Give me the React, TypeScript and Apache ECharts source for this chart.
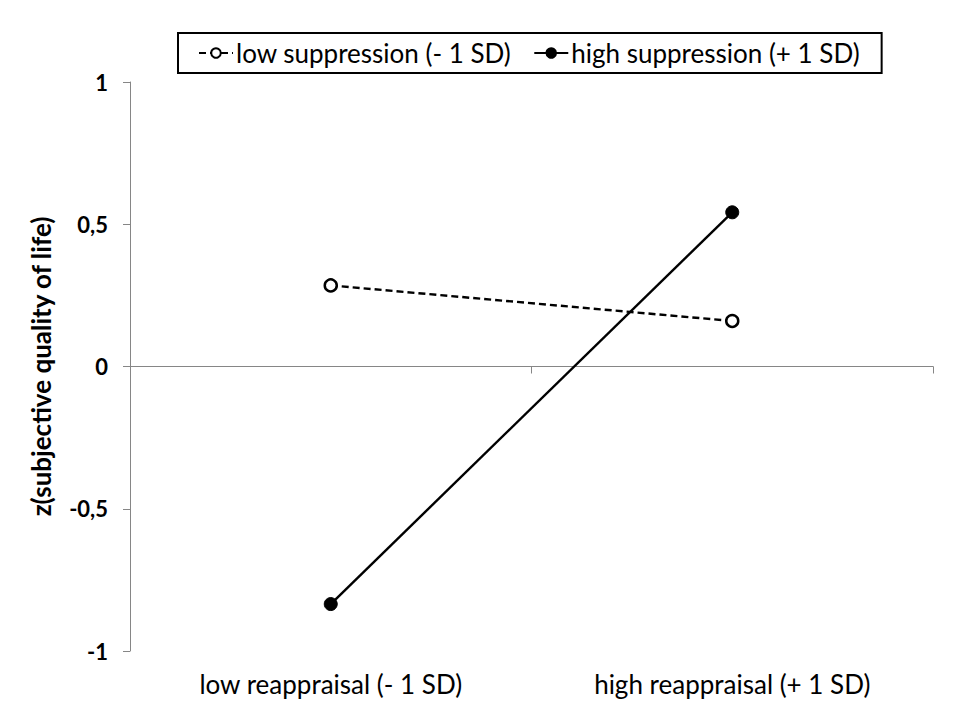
import React, { useEffect, useRef } from "react";
import * as echarts from "echarts";

const categories = ["low reappraisal (- 1 SD)", "high reappraisal (+ 1 SD)"];
const lowSuppression = [0.285, 0.16];
const highSuppression = [-0.835, 0.542];
const seriesNames = ["low suppression (- 1 SD)", "high suppression (+ 1 SD)"];
const yTickValues = [-1, -0.5, 0, 0.5, 1];
const yTickLabels = ["-1", "-0,5", "0", "0,5", "1"];
const yAxisTitle = "z(subjective quality of life)";

const FONT = "Lato";

export default function App() {
  const ref = useRef<HTMLDivElement>(null);
  useEffect(() => {
    if (!ref.current) return;
    const chart = echarts.init(ref.current, null, { renderer: "svg" });
    chart.setOption({
      animation: false,
      backgroundColor: "#ffffff",
      textStyle: { fontFamily: FONT },
      legend: {
        top: 33,
        left: 178,
        data: seriesNames,
        borderColor: "#000",
        borderWidth: 2,
        borderRadius: 0,
        padding: [7, 22, 7, 20],
        itemWidth: 34,
        itemHeight: 12,
        itemGap: 22,
        textStyle: { fontFamily: FONT, fontSize: 26, color: "#000", padding: [0, 0, 0, -2] },
      },
      grid: { left: 130, right: 27, top: 82, bottom: 69 },
      xAxis: [
        {
          type: "category",
          data: categories,
          boundaryGap: true,
          axisLine: { onZero: true, lineStyle: { color: "#868686", width: 1 } },
          axisTick: { show: true, length: 7, lineStyle: { color: "#868686" } },
          axisLabel: { show: false },
          splitLine: { show: false },
        },
        {
          type: "category",
          data: categories,
          position: "bottom",
          boundaryGap: true,
          axisLine: { show: false, onZero: false },
          axisTick: { show: false },
          axisLabel: { show: true, margin: 20, fontSize: 26, color: "#000", fontFamily: FONT },
          splitLine: { show: false },
        },
      ],
      yAxis: {
        type: "value",
        min: -1,
        max: 1,
        interval: 0.5,
        name: yAxisTitle,
        nameLocation: "middle",
        nameRotate: 90,
        nameGap: 76,
        nameTextStyle: { fontFamily: FONT, fontSize: 26, fontWeight: "bold", color: "#000" },
        axisLine: { show: true, lineStyle: { color: "#868686", width: 1 } },
        axisTick: { show: true, length: 7, inside: false, lineStyle: { color: "#868686" } },
        splitLine: { show: false },
        axisLabel: {
          margin: 22,
          fontSize: 22,
          fontWeight: "bold",
          color: "#000",
          formatter: (v: number) => {
            const i = yTickValues.findIndex((t) => Math.abs(t - v) < 1e-9);
            return i >= 0 ? yTickLabels[i] : "";
          },
        },
      },
      series: [
        {
          name: seriesNames[0],
          type: "line",
          xAxisIndex: 0,
          data: lowSuppression,
          symbol: "circle",
          symbolSize: 12,
          lineStyle: { color: "#000", width: 2.4, type: [7, 4] },
          itemStyle: { color: "#fff", borderColor: "#000", borderWidth: 2.5 },
        },
        {
          name: seriesNames[1],
          type: "line",
          xAxisIndex: 0,
          data: highSuppression,
          symbol: "circle",
          symbolSize: 13,
          lineStyle: { color: "#000", width: 2.4 },
          itemStyle: { color: "#000", borderColor: "#000", borderWidth: 1 },
        },
      ],
    });
    return () => chart.dispose();
  }, []);
  return (
    <div
      ref={ref}
      style={{ position: "absolute", left: 0, top: 0, width: 960, height: 720 }}
    />
  );
}
